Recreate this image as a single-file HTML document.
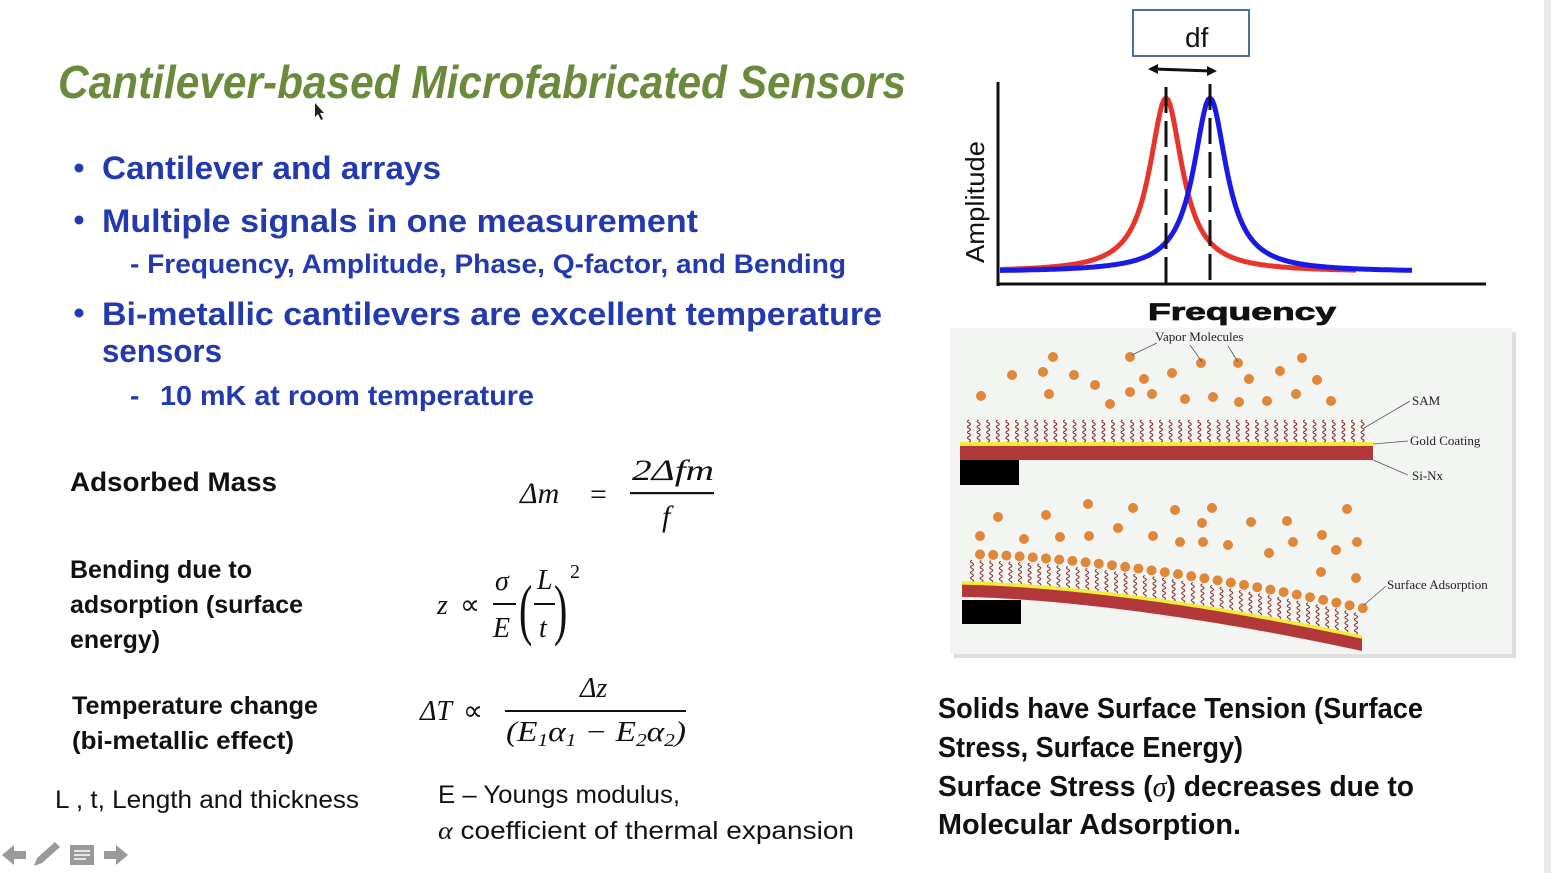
<!DOCTYPE html>
<html><head><meta charset="utf-8"><style>
html,body{margin:0;padding:0;background:#fff;width:1551px;height:873px;overflow:hidden}
svg{display:block}
.t{font-family:"Liberation Sans",sans-serif}
.b{font-weight:bold}
.m{font-family:"Liberation Serif",serif;font-style:italic}
.r{font-family:"Liberation Serif",serif}
</style></head><body>
<svg id="s" width="1551" height="873" viewBox="0 0 1551 873" xmlns="http://www.w3.org/2000/svg">
<rect width="1551" height="873" fill="#fff"/>
<rect x="1544" y="0" width="7" height="873" fill="#e8e8e8"/>
<text class="t b" x="58" y="98" font-size="46" font-style="italic" fill="#6b8a3c" textLength="848" lengthAdjust="spacingAndGlyphs">Cantilever-based Microfabricated Sensors</text>
<polygon points="315,103 315,117 318,114 321,120 323,119 320,113 324,113" fill="#222"/>
<g fill="#2339b0" class="t b">
<circle cx="79" cy="168" r="4.5"/><circle cx="79" cy="220" r="4.5"/><circle cx="79" cy="313" r="4.5"/>
<text x="102" y="179" font-size="32" textLength="339" lengthAdjust="spacingAndGlyphs">Cantilever and arrays</text>
<text x="102" y="232" font-size="32" textLength="596" lengthAdjust="spacingAndGlyphs">Multiple signals in one measurement</text>
<text x="130" y="273" font-size="27" textLength="716" lengthAdjust="spacingAndGlyphs">- Frequency, Amplitude, Phase, Q-factor, and Bending</text>
<text x="102" y="325" font-size="32" textLength="780" lengthAdjust="spacingAndGlyphs">Bi-metallic cantilevers are excellent temperature</text>
<text x="102" y="362" font-size="32" textLength="120" lengthAdjust="spacingAndGlyphs">sensors</text>
<text x="130" y="405" font-size="28">-</text>
<text x="160" y="405" font-size="28" textLength="374" lengthAdjust="spacingAndGlyphs">10 mK at room temperature</text>
</g>
<g fill="#111" class="t b">
<text x="70" y="491" font-size="27" textLength="207" lengthAdjust="spacingAndGlyphs">Adsorbed Mass</text>
<text x="70" y="578" font-size="25" textLength="182" lengthAdjust="spacingAndGlyphs">Bending due to</text>
<text x="70" y="613" font-size="25" textLength="233" lengthAdjust="spacingAndGlyphs">adsorption (surface</text>
<text x="70" y="648" font-size="25" textLength="90" lengthAdjust="spacingAndGlyphs">energy)</text>
<text x="72" y="714" font-size="25" textLength="246" lengthAdjust="spacingAndGlyphs">Temperature change</text>
<text x="72" y="749" font-size="25" textLength="222" lengthAdjust="spacingAndGlyphs">(bi-metallic effect)</text>
</g>
<g fill="#111" class="t">
<text x="55" y="808" font-size="25" textLength="304" lengthAdjust="spacingAndGlyphs">L , t, Length and thickness</text>
<text x="438" y="803" font-size="25" textLength="242" lengthAdjust="spacingAndGlyphs">E – Youngs modulus,</text>
<text x="438" y="839" font-size="25" textLength="416" lengthAdjust="spacingAndGlyphs"><tspan class="m">α</tspan> coefficient of thermal expansion</text>
</g>
<g fill="#111" font-size="30">
<text class="m" x="520" y="503">Δm</text>
<text class="r" x="590" y="504">=</text>
<rect x="630" y="492" width="84" height="2.2"/>
<text class="m" x="632" y="480" textLength="82" lengthAdjust="spacingAndGlyphs">2Δfm</text>
<text class="m" x="662" y="526">f</text>
<text class="m" x="437" y="614" font-size="28">z</text>
<text class="r" x="460" y="614" font-size="28">∝</text>
<text class="m" x="495" y="590" font-size="28">σ</text>
<rect x="493" y="603" width="23" height="2"/>
<text class="m" x="493" y="637" font-size="28">E</text>
<text class="r" x="0" y="0" font-size="40" transform="translate(519,632) scale(1,1.7)">(</text>
<text class="m" x="537" y="589" font-size="28">L</text>
<rect x="534" y="603" width="21" height="2"/>
<text class="m" x="539" y="637" font-size="28">t</text>
<text class="r" x="0" y="0" font-size="40" transform="translate(554,632) scale(1,1.7)">)</text>
<text class="r" x="570" y="578" font-size="20">2</text>
<text class="m" x="420" y="720" font-size="28">ΔT</text>
<text class="r" x="463" y="720" font-size="28">∝</text>
<text class="m" x="580" y="697" font-size="28">Δz</text>
<rect x="505" y="710" width="181" height="2"/>
<text class="m" x="506" y="741" font-size="28" textLength="180" lengthAdjust="spacingAndGlyphs">(E<tspan font-size="18" dy="5">1</tspan><tspan dy="-5">α</tspan><tspan font-size="18" dy="5">1</tspan><tspan class="r" dy="-5"> − </tspan>E<tspan font-size="18" dy="5">2</tspan><tspan dy="-5">α</tspan><tspan font-size="18" dy="5">2</tspan><tspan dy="-5">)</tspan></text>
</g>
<g fill="#111" class="t b" font-size="29">
<text x="938" y="718" textLength="485" lengthAdjust="spacingAndGlyphs">Solids have Surface Tension (Surface</text>
<text x="938" y="757" textLength="305" lengthAdjust="spacingAndGlyphs">Stress, Surface Energy)</text>
<text x="938" y="796" textLength="476" lengthAdjust="spacingAndGlyphs">Surface Stress (<tspan class="m" font-weight="normal">σ</tspan>) decreases due to</text>
<text x="938" y="834" textLength="303" lengthAdjust="spacingAndGlyphs">Molecular Adsorption.</text>
</g>
<rect x="1133" y="10" width="116" height="46" fill="#fff" stroke="#4a6fa0" stroke-width="2"/>
<text class="t" x="1185" y="47" font-size="28" fill="#111">df</text>
<line x1="1154" y1="69" x2="1211" y2="71" stroke="#111" stroke-width="3"/>
<polygon points="1148,69 1158,64 1158,74" fill="#111"/><polygon points="1217,71 1207,66 1207,76" fill="#111"/>
<line x1="998" y1="82" x2="998" y2="286" stroke="#111" stroke-width="3"/>
<line x1="997" y1="284" x2="1486" y2="284" stroke="#111" stroke-width="3"/>
<path id="red" fill="none" stroke="#e8352c" stroke-width="5"/>
<path id="blue" fill="none" stroke="#1a1ae6" stroke-width="5"/>
<line x1="1166" y1="87" x2="1166" y2="284" stroke="#111" stroke-width="3" stroke-dasharray="26,8"/>
<line x1="1210" y1="84" x2="1210" y2="284" stroke="#111" stroke-width="3" stroke-dasharray="26,8"/>
<text class="t" x="0" y="0" font-size="26" fill="#111" transform="translate(984,263) rotate(-90)" textLength="122" lengthAdjust="spacingAndGlyphs">Amplitude</text>
<text class="t b" x="1148" y="320" font-size="24" fill="#111" textLength="188" lengthAdjust="spacingAndGlyphs" stroke="#111" stroke-width="0.8">Frequency</text>
<rect x="954" y="332" width="562" height="326" fill="#c8c8c8" opacity="0.6"/>
<rect x="950" y="328" width="562" height="326" fill="#f3f5f3"/>
<g id="sam" fill="none" stroke="#8a2a2a" stroke-width="1"></g>
<rect x="960" y="442" width="413" height="4" fill="#f2ec3a"/>
<rect x="960" y="446" width="413" height="14" fill="#b3383a"/>
<rect x="960" y="460" width="59" height="25" fill="#000"/>
<path id="bent" fill="#b3383a"/>
<path id="gold" fill="none" stroke="#f2ec3a" stroke-width="3.5"/>
<rect x="962" y="600" width="59" height="24" fill="#000"/>
<g id="mol" fill="#e0883a"></g>
<g stroke="#555" stroke-width="0.8" fill="none">
<line x1="1157" y1="343" x2="1132" y2="355"/><line x1="1190" y1="345" x2="1202" y2="362"/><line x1="1228" y1="346" x2="1238" y2="362"/>
<line x1="1410" y1="401" x2="1364" y2="428"/><line x1="1408" y1="441" x2="1373" y2="444"/><line x1="1408" y1="475" x2="1373" y2="460"/>
<line x1="1386" y1="586" x2="1364" y2="605"/>
</g>
<g class="r" font-size="13" fill="#222">
<text x="1155" y="341">Vapor Molecules</text>
<text x="1412" y="405">SAM</text>
<text x="1410" y="445">Gold Coating</text>
<text x="1412" y="480">Si-Nx</text>
<text x="1387" y="589">Surface Adsorption</text>
</g>
<g fill="#9a9a9a">
<polygon points="2,855 14,845 14,851 26,851 26,859 14,859 14,865"/>
<polygon points="34,866 37,858 55,842 60,847 42,863"/>
<rect x="70" y="845" width="24" height="20"/>
<polygon points="128,855 116,845 116,851 104,851 104,859 116,859 116,865"/>
</g>
<g stroke="#fff" stroke-width="1.5"><line x1="74" y1="851" x2="90" y2="851"/><line x1="74" y1="855" x2="90" y2="855"/><line x1="74" y1="859" x2="86" y2="859"/></g>
</svg>
<script>
var NS="http://www.w3.org/2000/svg";
function lor(x0,x1,x2){var d="";for(var x=x1;x<=x2;x+=2){var y=272-174/(1+Math.pow((x-x0)/20,2));d+=(x==x1?"M":"L")+x+","+y.toFixed(1);}return d;}
document.getElementById("red").setAttribute("d",lor(1166,1000,1356));
document.getElementById("blue").setAttribute("d",lor(1210,1000,1412));
function cy(x){var t=(x-962)/400;return 583+54*Math.pow(Math.max(t,0),1.6);}
var tp="",bt="";for(var x=962;x<=1362;x+=4){tp+=(x==962?"M":"L")+x+","+cy(x).toFixed(1);}
for(var x=1362;x>=962;x-=4){bt+="L"+x+","+(cy(x)+14).toFixed(1);}
document.getElementById("bent").setAttribute("d",tp+bt+"Z");
document.getElementById("gold").setAttribute("d",tp);
var sam=document.getElementById("sam");
function sq(x,yb,h){var p=document.createElementNS(NS,"path");var d="M"+x+","+yb;for(var i=1;i<=8;i++){d+="Q"+(x+(i%2?3:-3))+","+(yb-h*(i-0.5)/8)+" "+x+","+(yb-h*i/8);}p.setAttribute("d",d);sam.appendChild(p);}
for(var x=969;x<=1365;x+=9.6){sq(x,442,22);}
for(var x=972;x<=1362;x+=9.6){sq(x,cy(x)-1,22);}
var mol=document.getElementById("mol");
function c(x,y){var e=document.createElementNS(NS,"circle");e.setAttribute("cx",x);e.setAttribute("cy",y);e.setAttribute("r",5);mol.appendChild(e);}
[[981,396],[1012,375],[1043,372],[1053,357],[1049,394],[1074,375],[1095,385],[1110,404],[1130,357],[1144,379],[1130,392],[1152,394],[1172,373],[1185,399],[1201,363],[1213,397],[1238,363],[1239,402],[1249,379],[1267,401],[1280,371],[1296,394],[1302,358],[1317,380],[1331,401],
[998,517],[1046,515],[1088,504],[1133,508],[1175,510],[1212,508],[1202,523],[1251,522],[1287,521],[1347,509],[980,536],[1024,539],[1060,537],[1089,536],[1118,528],[1153,536],[1180,542],[1203,542],[1228,545],[1269,553],[1293,542],[1322,535],[1336,550],[1357,542],[1321,572],[1356,578]].forEach(function(p){c(p[0],p[1]);});
for(var x=980;x<=1364;x+=13.2){c(x,cy(x)-29);}
</script>
</body></html>
